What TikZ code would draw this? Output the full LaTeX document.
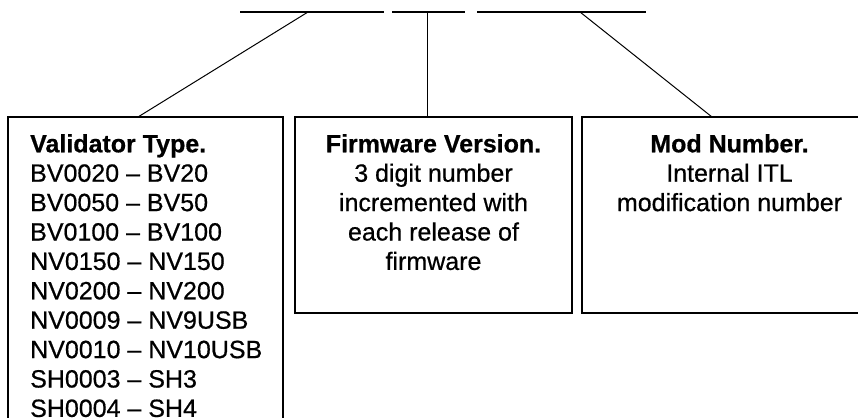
\documentclass[tikz,border=0pt]{standalone}
\usepackage{fontspec}
\setmainfont{Liberation Sans}
\newfontfamily\medfont{Liberation Sans}[FakeBold=0.6]
\usetikzlibrary{calc}

\begin{document}
\begin{tikzpicture}[x=1pt,y=1pt,
  field/.style={draw=black,line width=1.6pt,rectangle,inner sep=0pt,outer sep=0pt,anchor=north west},
  fieldtext/.style={inner sep=0pt,font=\fontsize{25}{29.4}\selectfont\medfont},
  segment/.style={line width=2.4pt},
  link/.style={line width=1pt}]
\useasboundingbox (0,0) rectangle (858,417);

% code parts on top
\draw[segment] (240,405) -- (384,405);
\draw[segment] (392,405) -- (465,405);
\draw[segment] (477,405) -- (646,405);
\coordinate (typetop) at (308,405);
\coordinate (fwtop) at (427,405);
\coordinate (modtop) at (580,405);

% boxes
\node[field,minimum width=275,minimum height=340] (vtype) at (8,300) {};
\node[field,minimum width=277,minimum height=196] (fwver) at (295,300) {};
\node[field,minimum width=295,minimum height=196] (modnum) at (582,300) {};

\node[fieldtext,anchor=north west,align=left] (vtypetext) at (30,283)
  {\textbf{Validator Type.}\\BV0020 – BV20\\BV0050 – BV50\\BV0100 – BV100\\NV0150 – NV150\\NV0200 – NV200\\NV0009 – NV9USB\\NV0010 – NV10USB\\SH0003 – SH3\\SH0004 – SH4};
\node[fieldtext,anchor=north,align=center] (fwvertext) at (433.5,283)
  {\textbf{Firmware Version.}\\3 digit number\\incremented with\\each release of\\firmware};
\node[fieldtext,anchor=north,align=center] (modnumtext) at (729.5,283)
  {\textbf{Mod Number.}\\Internal ITL\\modification number};

% links
\draw[link] (typetop) -- ($(vtype.north west)+(130,0)$);
\draw[link] (fwtop) -- (fwtop |- fwver.north);
\draw[link] (modtop) -- ($(modnum.north west)+(130,0)$);
\end{tikzpicture}
\end{document}
